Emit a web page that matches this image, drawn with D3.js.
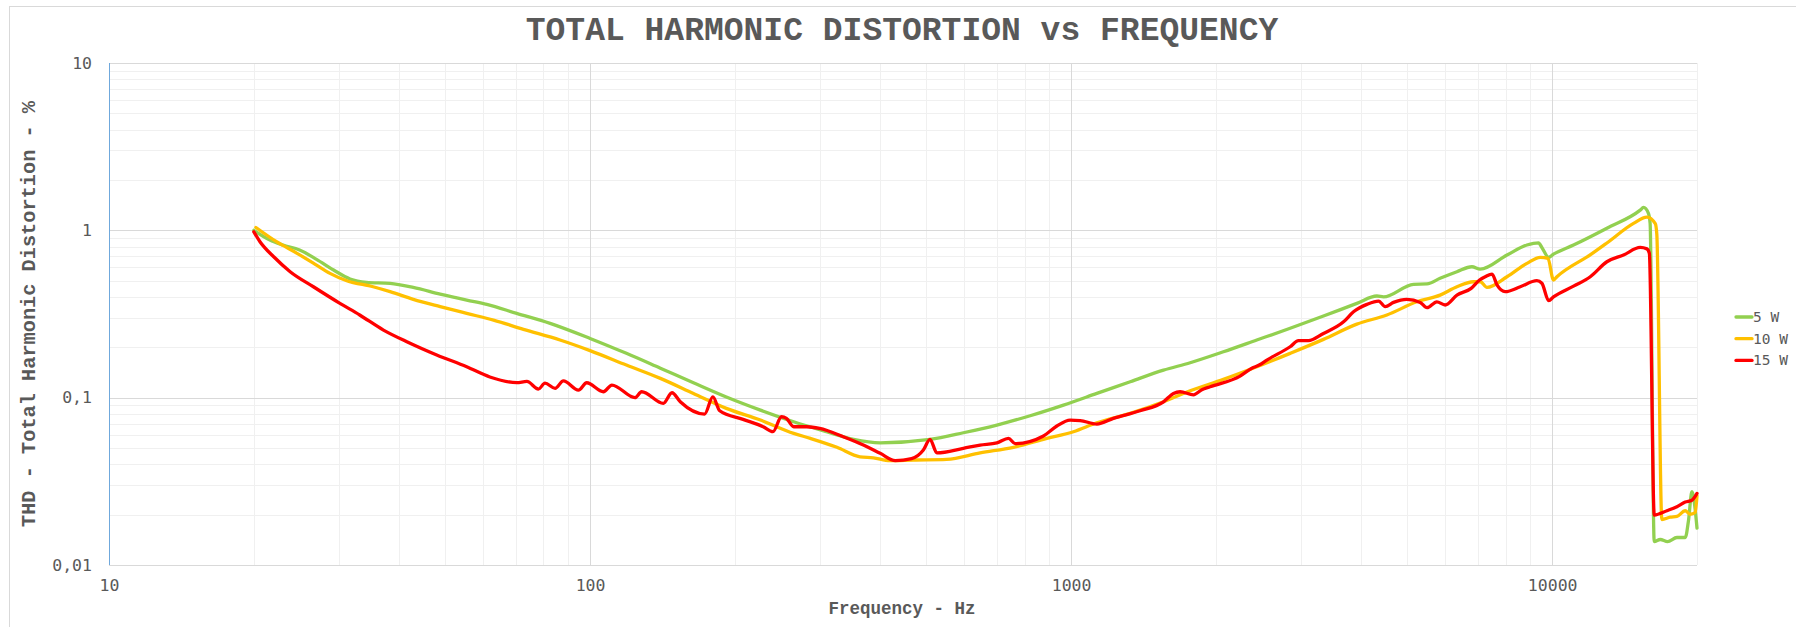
<!DOCTYPE html>
<html>
<head>
<meta charset="utf-8">
<script src="https://cdn.jsdelivr.net/npm/d3@7"></script>
<style>
body { margin: 0; background: #fff; }
</style>
</head>
<body>
<div class="thdChart"></div>
<script>
// values (Hz / %)
var freq5 = [20, 21.6, 23, 24.9, 27, 29.3, 31.7, 34.3, 38.4, 42.9, 48.8, 55.4, 61, 70.4, 82.6, 100, 119, 140, 164, 192, 226, 265, 310, 353, 401, 509, 597, 701, 822, 964, 1131, 1327, 1556, 1768, 2073, 2432, 2853, 3346, 3926, 4321, 4461, 5149, 5492, 5848, 6339, 6810, 7087, 8055, 8862, 9368, 9518, 9833, 10062, 11075, 12993, 15241, 15480, 15859, 15980, 16298, 16773, 17371, 18168, 18905, 19209, 19519, 19831, 20000];
var thd5 = [1.0, 0.875, 0.817, 0.763, 0.671, 0.579, 0.512, 0.489, 0.482, 0.456, 0.416, 0.383, 0.361, 0.319, 0.278, 0.226, 0.184, 0.15, 0.1228, 0.101, 0.0843, 0.0718, 0.0626, 0.0563, 0.0537, 0.0563, 0.0617, 0.0686, 0.078, 0.0903, 0.106, 0.1245, 0.146, 0.1617, 0.188, 0.221, 0.26, 0.3075, 0.366, 0.405, 0.4, 0.4756, 0.478, 0.5165, 0.566, 0.606, 0.586, 0.712, 0.817, 0.842, 0.79, 0.69, 0.72, 0.817, 1.03, 1.32, 1.37, 1.26, 1.1, 0.0138, 0.0142, 0.0138, 0.0146, 0.0146, 0.0186, 0.0274, 0.0213, 0.0166];

var freq10 = [20.2, 22.3, 24.6, 27, 28.8, 31.2, 35.4, 38.4, 42.9, 48.8, 55.4, 63, 72.7, 86.6, 100, 119, 140, 164, 192, 226, 265, 287, 326, 364, 388, 420, 470, 551, 647, 759, 890, 1011, 1131, 1327, 1556, 1768, 2073, 2432, 2853, 3346, 3926, 4533, 5231, 5848, 6339, 6864, 7087, 7320, 8055, 8862, 9448, 9800, 10062, 10230, 12056, 12993, 14757, 15737, 16380, 16500, 16904, 17593, 18168, 18905, 19350, 19831, 20000];
var thd10 = [1.04, 0.855, 0.729, 0.62, 0.553, 0.5, 0.46, 0.43, 0.387, 0.35, 0.319, 0.291, 0.256, 0.221, 0.191, 0.1566, 0.1304, 0.106, 0.0863, 0.0735, 0.0612, 0.0571, 0.0505, 0.0443, 0.0437, 0.042, 0.0424, 0.0428, 0.0468, 0.0505, 0.0571, 0.0626, 0.0708, 0.0806, 0.0945, 0.11, 0.1287, 0.153, 0.184, 0.223, 0.275, 0.312, 0.374, 0.41, 0.46, 0.493, 0.493, 0.456, 0.528, 0.635, 0.69, 0.68, 0.505, 0.528, 0.72, 0.84, 1.1, 1.2, 1.096, 0.95, 0.0187, 0.0193, 0.0195, 0.0211, 0.0201, 0.0206, 0.026];

var freq15 = [20, 20.6, 22, 23.8, 26.6, 30.2, 33.2, 37.2, 41.6, 48, 55.4, 61.9, 70.4, 73.9, 78.1, 80.6, 84.6, 88, 94.6, 98.4, 106.6, 111, 124, 128, 142, 148, 154, 173, 180, 186, 208, 229, 240, 250, 256, 265, 282, 300, 336, 370, 401, 431, 466, 493, 509, 526, 597, 647, 701, 741, 765, 876, 934, 995, 1044, 1131, 1224, 1391, 1556, 1632, 1685, 1796, 1869, 1945, 2245, 2375, 2460, 2552, 2853, 2969, 3112, 3346, 3684, 3864, 4120, 4356, 4496, 4680, 4988, 5318, 5492, 5758, 5991, 6339, 6785, 7063, 7257, 7499, 7684, 7985, 8585, 9296, 9518, 9833, 10062, 11075, 12000, 12993, 14069, 15241, 15737, 15920, 16300, 17318, 18168, 18905, 19519, 20000];
var thd15 = [0.98, 0.855, 0.695, 0.566, 0.46, 0.366, 0.312, 0.2535, 0.216, 0.18, 0.153, 0.133, 0.123, 0.125, 0.1126, 0.122, 0.1137, 0.126, 0.111, 0.1228, 0.1085, 0.119, 0.1, 0.1085, 0.0924, 0.107, 0.0945, 0.0798, 0.101, 0.0835, 0.0742, 0.067, 0.0626, 0.0769, 0.0752, 0.067, 0.067, 0.0655, 0.0584, 0.0521, 0.0465, 0.042, 0.0432, 0.0487, 0.0563, 0.0468, 0.0498, 0.0521, 0.0537, 0.0571, 0.0531, 0.059, 0.0677, 0.0735, 0.073, 0.0695, 0.0752, 0.0835, 0.0945, 0.106, 0.1085, 0.104, 0.1114, 0.1162, 0.1346, 0.15, 0.1566, 0.1678, 0.2015, 0.219, 0.219, 0.242, 0.284, 0.326, 0.361, 0.378, 0.35, 0.371, 0.387, 0.371, 0.345, 0.374, 0.358, 0.41, 0.45, 0.505, 0.528, 0.547, 0.47, 0.43, 0.46, 0.5, 0.483, 0.38, 0.4, 0.464, 0.528, 0.649, 0.712, 0.79, 0.775, 0.73, 0.0199, 0.0211, 0.0223, 0.0238, 0.0244, 0.0268];

var seriesNames = ["5 W", "10 W", "15 W"];
var seriesColors = ["#92D050", "#FFC000", "#FF0000"];
var xTickValues = [10, 100, 1000, 10000];
var xTickLabels = ["10", "100", "1000", "10000"];
var yTickValues = [0.01, 0.1, 1, 10];
var yTickLabels = ["0,01", "0,1", "1", "10"];

var width = 1796;
var height = 627;
var plot = { left: 109, right: 1697, top: 63, bottom: 565 };

var series = [
    { name: seriesNames[0], color: seriesColors[0], values: freq5.map(function(f, i) { return { f: f, v: thd5[i] }; }) },
    { name: seriesNames[1], color: seriesColors[1], values: freq10.map(function(f, i) { return { f: f, v: thd10[i] }; }) },
    { name: seriesNames[2], color: seriesColors[2], values: freq15.map(function(f, i) { return { f: f, v: thd15[i] }; }) }
];

var x = d3.scaleLog().domain([10, 20000]).range([plot.left, plot.right]);
var y = d3.scaleLog().domain([0.01, 10]).range([plot.bottom, plot.top]);

var svg = d3.select(".thdChart").append("svg")
    .attr("width", width)
    .attr("height", height)
    .style("display", "block");

svg.append("rect")
    .attr("width", width)
    .attr("height", height)
    .attr("fill", "#fff");

// chart area border
svg.append("rect")
    .attr("x", 9.5)
    .attr("y", 6.5)
    .attr("width", 1800)
    .attr("height", 700)
    .attr("fill", "none")
    .attr("stroke", "#d9d9d9");

// minor + major grid
var xMinor = [], yMinor = [];
[10, 100, 1000, 10000].forEach(function(d) {
    for (var k = 2; k <= 9; k++) if (d * k <= 20000) xMinor.push(d * k);
});
[0.01, 0.1, 1].forEach(function(d) {
    for (var k = 2; k <= 9; k++) yMinor.push(d * k);
});

var grid = svg.append("g");
grid.selectAll(".xminor").data(xMinor).enter().append("line")
    .attr("x1", function(d) { return Math.round(x(d)) + 0.5; })
    .attr("x2", function(d) { return Math.round(x(d)) + 0.5; })
    .attr("y1", plot.top).attr("y2", plot.bottom)
    .attr("stroke", "#f0f0f0");
grid.selectAll(".yminor").data(yMinor).enter().append("line")
    .attr("y1", function(d) { return Math.round(y(d)) + 0.5; })
    .attr("y2", function(d) { return Math.round(y(d)) + 0.5; })
    .attr("x1", plot.left).attr("x2", plot.right)
    .attr("stroke", "#f0f0f0");
grid.selectAll(".xmajor").data(xTickValues.slice(1)).enter().append("line")
    .attr("x1", function(d) { return Math.round(x(d)) + 0.5; })
    .attr("x2", function(d) { return Math.round(x(d)) + 0.5; })
    .attr("y1", plot.top).attr("y2", plot.bottom)
    .attr("stroke", "#d9d9d9");
grid.selectAll(".ymajor").data(yTickValues).enter().append("line")
    .attr("y1", function(d) { return Math.round(y(d)) + 0.5; })
    .attr("y2", function(d) { return Math.round(y(d)) + 0.5; })
    .attr("x1", plot.left).attr("x2", plot.right)
    .attr("stroke", "#d9d9d9");

// left axis line
svg.append("line")
    .attr("x1", plot.left + 0.5).attr("x2", plot.left + 0.5)
    .attr("y1", plot.top).attr("y2", plot.bottom)
    .attr("stroke", "#6fa8dc");

// axes
var xAxis = d3.axisBottom(x)
    .tickValues(xTickValues)
    .tickFormat(function(d, i) { return xTickLabels[i]; })
    .tickSize(0)
    .tickPadding(14);
var yAxis = d3.axisLeft(y)
    .tickValues(yTickValues)
    .tickFormat(function(d, i) { return yTickLabels[i]; })
    .tickSize(0)
    .tickPadding(17);

var gx = svg.append("g")
    .attr("transform", "translate(0," + plot.bottom + ")")
    .call(xAxis);
var gy = svg.append("g")
    .attr("transform", "translate(" + plot.left + ",0)")
    .call(yAxis);
gx.select(".domain").remove();
gy.select(".domain").remove();
svg.selectAll(".tick text")
    .attr("fill", "#595959")
    .style("font-family", "'DejaVu Sans Mono', monospace")
    .style("font-size", "16.5px");

// lines
var line = d3.line()
    .x(function(d) { return x(d.f); })
    .y(function(d) { return y(d.v); })
    .curve(d3.curveMonotoneX);

svg.append("g").selectAll("path")
    .data(series)
    .enter().append("path")
    .attr("d", function(d) { return line(d.values); })
    .attr("fill", "none")
    .attr("stroke", function(d) { return d.color; })
    .attr("stroke-width", 3.3)
    .attr("stroke-linejoin", "round")
    .attr("stroke-linecap", "round");

// titles
svg.append("text")
    .attr("x", 902)
    .attr("y", 40)
    .attr("text-anchor", "middle")
    .attr("fill", "#595959")
    .style("font-family", "'Liberation Mono', monospace")
    .style("font-weight", "bold")
    .style("font-size", "33px")
    .text("TOTAL HARMONIC DISTORTION vs FREQUENCY");

svg.append("text")
    .attr("x", 902)
    .attr("y", 614)
    .attr("text-anchor", "middle")
    .attr("fill", "#595959")
    .style("font-family", "'Liberation Mono', monospace")
    .style("font-weight", "bold")
    .style("font-size", "17.5px")
    .text("Frequency - Hz");

svg.append("text")
    .attr("transform", "translate(35,314) rotate(-90)")
    .attr("text-anchor", "middle")
    .attr("fill", "#595959")
    .style("font-family", "'Liberation Mono', monospace")
    .style("font-weight", "bold")
    .style("font-size", "20.3px")
    .text("THD - Total Harmonic Distortion - %");

// legend
var legend = svg.append("g").selectAll("g")
    .data(series)
    .enter().append("g")
    .attr("transform", function(d, i) { return "translate(1736," + (317 + i * 21.7) + ")"; });
legend.append("line")
    .attr("x1", 0).attr("x2", 16)
    .attr("stroke", function(d) { return d.color; })
    .attr("stroke-width", 3.3)
    .attr("stroke-linecap", "round");
legend.append("text")
    .attr("x", 17)
    .attr("dy", "0.35em")
    .attr("fill", "#595959")
    .style("font-family", "'DejaVu Sans Mono', monospace")
    .style("font-size", "14.5px")
    .text(function(d) { return d.name; });
</script>
</body>
</html>
